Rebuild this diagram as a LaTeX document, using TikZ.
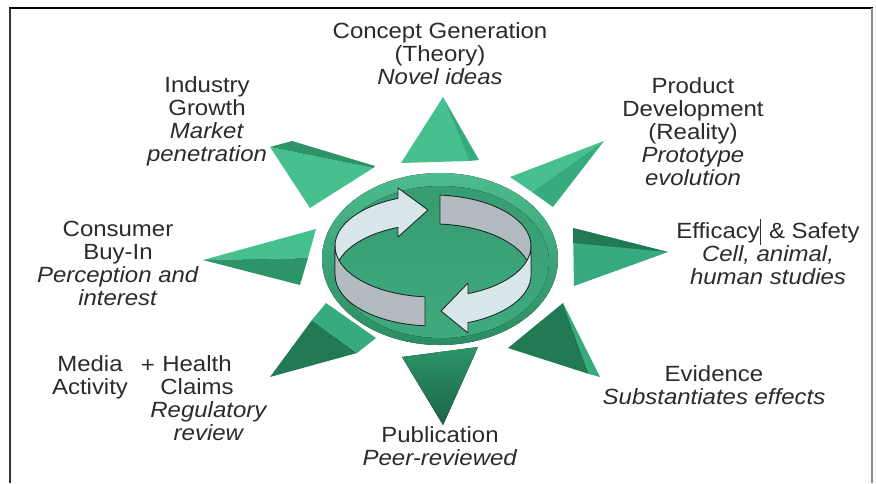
\documentclass[tikz,border=0pt]{standalone}
\usepackage{fontspec}
\setmainfont{Liberation Sans}[FakeStretch=1.09]
\definecolor{gA}{HTML}{45C08E}
\definecolor{gB}{HTML}{36AC7E}
\definecolor{gC}{HTML}{2C9468}
\definecolor{gD}{HTML}{227A55}
\definecolor{gE}{HTML}{1B6546}
\definecolor{discTop}{HTML}{4DBC8F}
\definecolor{discBot}{HTML}{2B8C62}
\definecolor{faceTop}{HTML}{369C72}
\definecolor{faceBot}{HTML}{3FAA7D}
\definecolor{ringLight}{HTML}{D8E6E9}
\definecolor{ringGray}{HTML}{B2BBBF}
\definecolor{ringEdge}{HTML}{1E2A2A}
\definecolor{txt}{HTML}{2B2B2B}
\begin{document}
\begin{tikzpicture}[x=1pt,y=-1pt,
  lbl/.style={font=\fontsize{22}{23}\selectfont, text=txt, align=center, inner sep=0pt},
  ringline/.style={draw=ringEdge, line width=0.9pt, line join=round},
  band/.style={x radius=98, y radius=51}]
\useasboundingbox (0,0) rectangle (876,483);
\fill[white] (0,0) rectangle (876,483);

% frame
\draw[line width=2pt, draw=black!80] (10,483) -- (10,8);
\draw[line width=1.6pt, draw=black] (9,8) -- (873,8);
\draw[line width=2pt, draw=black!45] (872,8) -- (872,483);

% rays of the sun
% top
\fill[gA] (443,97) -- (401,163) -- (469,161) -- cycle;
\fill[gB] (443,97) -- (469,161) -- (479,160) -- cycle;
% upper right
\fill[gA] (510,177) -- (604,141) -- (532,192) -- cycle;
\fill[gB] (532,192) -- (604,141) -- (553,207) -- cycle;
% right
\fill[gB] (573,228) -- (668,252) -- (574,286) -- cycle;
\fill[gD] (573,228) -- (668,252) -- (573,243) -- cycle;
% lower right
\fill[gD] (508,348) -- (563,303) -- (589,374) -- cycle;
\fill[gB] (563,303) -- (600,377) -- (589,374) -- cycle;
% bottom
\fill[top color=gC, bottom color=gE] (402,357) -- (478,347) -- (443,425) -- cycle;
% lower left
\fill[gD] (270,377) -- (312,320) -- (357,353) -- cycle;
\fill[gB] (312,320) -- (326,303) -- (376,338) -- (357,353) -- cycle;
% left
\fill[gA] (203,260) -- (316,229) -- (308,258) -- cycle;
\fill[gC] (203,260) -- (308,258) -- (300,285) -- cycle;
% upper left
\fill[gA] (270,147) -- (373,168) -- (310,208) -- cycle;
\fill[gC] (270,147) -- (292,141) -- (375,166) -- (373,168) -- cycle;

% central disc
\fill[top color=discTop, bottom color=discBot] (440,259) ellipse [x radius=118, y radius=86];
\fill[top color=faceTop, bottom color=faceBot] (441,262) ellipse [x radius=108, y radius=76];

% rotating band: back half
\filldraw[ringline, fill=ringLight]
  (335,246) arc[start angle=180, end angle=249.1, band]
  -- (398,188) -- (428,210) -- (398,237)
  -- (398,227.4) arc[start angle=249.1, end angle=180, band] -- cycle;
\filldraw[ringline, fill=ringGray]
  (440,195.1) arc[start angle=274.1, end angle=360, band]
  -- (531,275) arc[start angle=360, end angle=274.1, band] -- cycle;
% rotating band: front half
\filldraw[ringline, fill=ringGray]
  (335,246) arc[start angle=180, end angle=94.7, band]
  -- (425,325.8) arc[start angle=94.7, end angle=180, band] -- cycle;
\filldraw[ringline, fill=ringLight]
  (531,246) arc[start angle=0, end angle=69.1, band]
  -- (468,283) -- (441,311) -- (468,333)
  -- (468,322.6) arc[start angle=69.1, end angle=0, band] -- cycle;

% labels
\node[lbl] (concept) at (440,54) {Concept Generation\\(Theory)\\\textit{Novel ideas}};
\node[lbl] (product) at (693,132) {Product\\Development\\(Reality)\\\textit{Prototype}\\\textit{evolution}};
\node[lbl] (efficacy) at (768,252) {Efficacy\kern0.6pt\rule[-0.28em]{0.9pt}{1.15em}\kern1pt{} \& Safety\\\textit{Cell, animal,}\\\textit{human studies}};
\node[lbl] (evidence) at (714,385) {Evidence\\\textit{Substantiates effects}};
\node[lbl] (publication) at (440,446) {Publication\\\textit{Peer-reviewed}};
\node[lbl] (regulatory) at (209,421) {\textit{Regulatory}\\\textit{review}};
\node[lbl] (media) at (90,377) {Media\\Activity};
\node[lbl] (plus) at (148,366) {+};
\node[lbl] (health) at (197,375) {Health\\Claims};
\node[lbl] (consumer) at (118,263) {Consumer\\Buy-In\\\textit{Perception and}\\\textit{interest}};
\node[lbl] (industry) at (207,121) {Industry\\Growth\\\textit{Market}\\\textit{penetration}};
\end{tikzpicture}
\end{document}
